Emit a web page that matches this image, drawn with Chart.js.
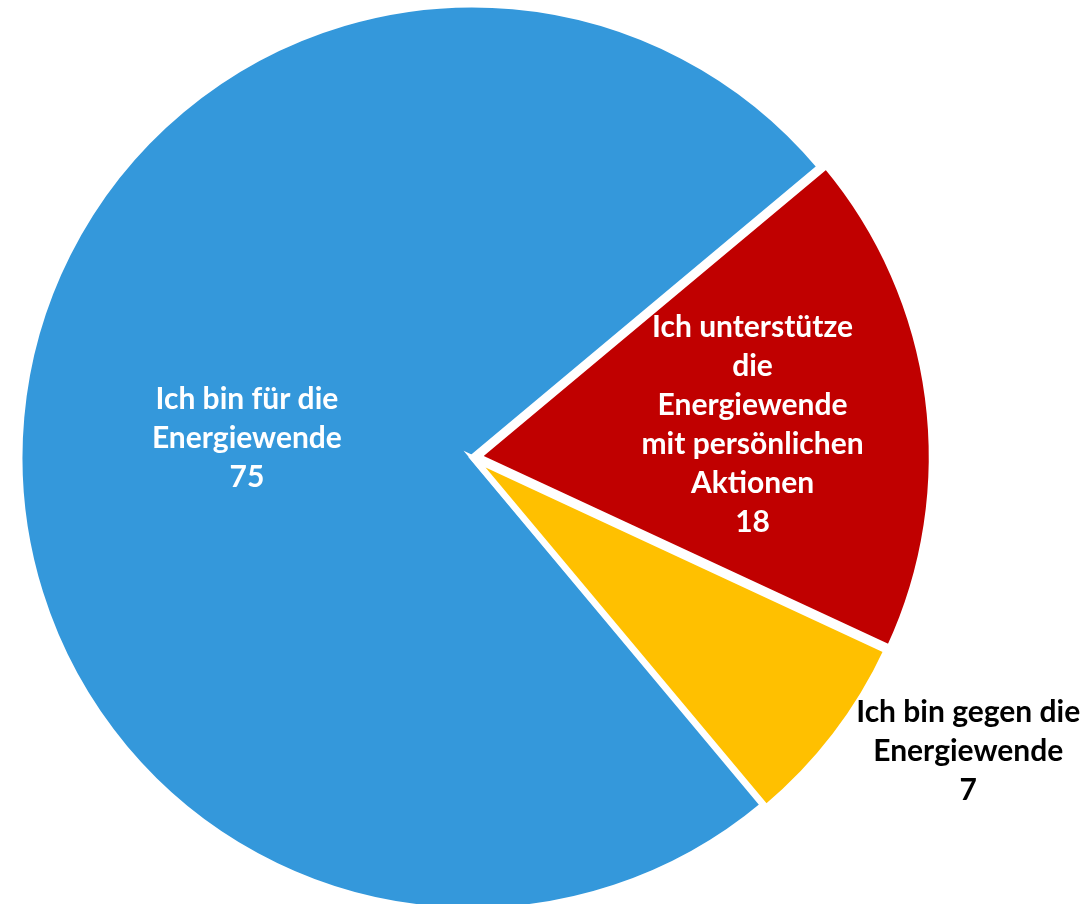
<!DOCTYPE html>
<html lang="de">
<head>
<meta charset="UTF-8">
<title>Energiewende</title>
<script src="https://cdn.jsdelivr.net/npm/chart.js"></script>
<style>
  html, body { margin: 0; padding: 0; background: #ffffff; }
  canvas { display: block; }
</style>
</head>
<body>
<canvas id="pieChart" width="1086" height="904"></canvas>

<script>
  // Daten
  const categories = [
    "Ich bin für die\nEnergiewende",
    "Ich unterstütze\ndie\nEnergiewende\nmit persönlichen\nAktionen",
    "Ich bin gegen die\nEnergiewende"
  ];
  const values = [75, 18, 7];
  const colors = ["#3498DB", "#C00000", "#FFC000"];

  // Beschriftung: Abstand vom Mittelpunkt (Anteil vom Radius), Winkelverschiebung, Farbe
  const labelRadius = [0.5, 0.61, 1.265];
  const labelShift = [0, 0.6, -7];
  const labelColor = ["#ffffff", "#ffffff", "#000000"];

  const labelPlugin = {
    id: "sliceLabels",
    afterDatasetsDraw(chart) {
      const ctx = chart.ctx;
      const meta = chart.getDatasetMeta(0);
      ctx.save();
      ctx.font = "bold 30px Lato";
      ctx.textAlign = "center";
      ctx.textBaseline = "middle";
      meta.data.forEach((arc, i) => {
        const p = arc.getProps(["x", "y", "startAngle", "endAngle", "outerRadius"], true);
        const mid = (p.startAngle + p.endAngle) / 2;
        const shift = (arc.options.offset || 0) / 4;
        const a = mid + labelShift[i] * Math.PI / 180;
        const cx = p.x + Math.cos(mid) * shift + Math.cos(a) * p.outerRadius * labelRadius[i];
        const cy = p.y + Math.sin(mid) * shift + Math.sin(a) * p.outerRadius * labelRadius[i];
        const lines = categories[i].split("\n").concat(String(values[i]));
        const lh = 39;
        const top = cy - (lines.length - 1) * lh / 2 + 1;
        ctx.fillStyle = labelColor[i];
        lines.forEach((t, k) => ctx.fillText(t, cx, top + k * lh));
      });
      ctx.restore();
    }
  };

  const ctx = document.getElementById("pieChart").getContext("2d");
  new Chart(ctx, {
    type: "pie",
    data: {
      labels: categories,
      datasets: [{
        data: values,
        backgroundColor: colors,
        borderColor: "#ffffff",
        borderWidth: 6,
        borderJoinStyle: "miter",
        offset: [0, 23, 10]
      }]
    },
    options: {
      responsive: false,
      animation: false,
      rotation: 140.1,
      radius: 453,
      layout: { padding: { left: 0, right: 141, top: 11, bottom: 0 } },
      plugins: {
        legend: { display: false },
        tooltip: { enabled: false }
      }
    },
    plugins: [labelPlugin]
  });
</script>
</body>
</html>
